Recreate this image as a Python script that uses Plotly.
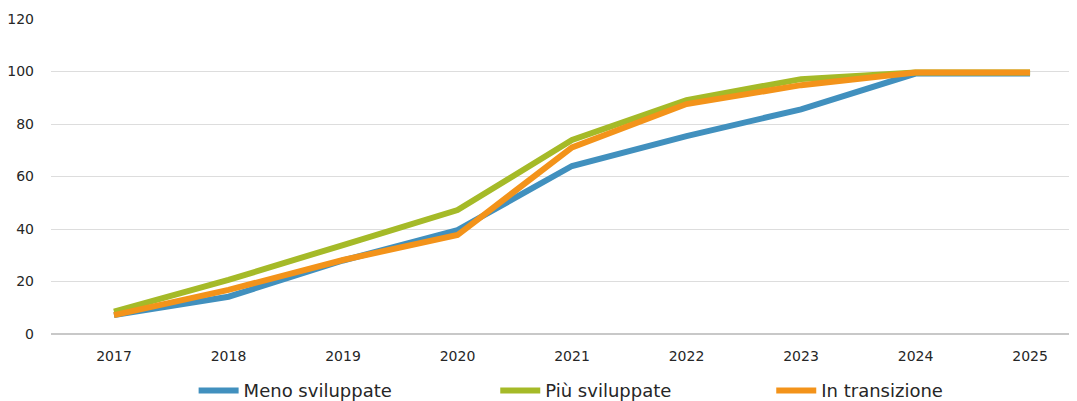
import plotly.graph_objects as go

years = ["2017", "2018", "2019", "2020", "2021", "2022", "2023", "2024", "2025"]
meno_sviluppate = [7.2, 14.2, 28.0, 39.6, 64.0, 75.4, 85.6, 99.2, 99.2]
piu_sviluppate = [8.5, 20.6, 33.9, 47.2, 73.9, 89.1, 97.1, 99.6, 99.6]
in_transizione = [7.2, 16.8, 28.2, 37.7, 71.1, 87.6, 94.8, 99.6, 99.6]

names = ["Meno sviluppate", "Più sviluppate", "In transizione"]
colors = ["#4190BE", "#A5BA28", "#F3931A"]
series = [meno_sviluppate, piu_sviluppate, in_transizione]
legend_ids = ["legend", "legend2", "legend3"]
legend_x = [0.139, 0.433, 0.702]

FONT = "'DejaVu Sans', sans-serif"

fig = go.Figure()
for name, col, vals, lid in zip(names, colors, series, legend_ids):
    fig.add_trace(go.Scatter(
        x=years, y=vals, name=name, mode="lines",
        line=dict(color=col, width=6),
        legend=lid,
    ))

legend_common = dict(
    orientation="h", yanchor="middle", y=-0.18, xanchor="left",
    font=dict(family=FONT, size=18, color="#262626"),
    bgcolor="rgba(0,0,0,0)", itemwidth=40,
)
layout_legends = {}
for lid, lx in zip(legend_ids, legend_x):
    layout_legends[lid] = dict(legend_common, x=lx)

fig.update_layout(
    width=1069, height=393,
    margin=dict(l=43, r=0, t=11, b=67, autoexpand=False),
    paper_bgcolor="white", plot_bgcolor="white",
    font=dict(family=FONT, size=14, color="#262626"),
    showlegend=True,
    xaxis=dict(
        type="category", range=[-0.55, 8.41],
        showgrid=False, zeroline=False, showline=False,
        ticks="", ticklabelstandoff=12, automargin=False,
        tickfont=dict(family=FONT, size=14, color="#262626"),
    ),
    yaxis=dict(
        range=[0, 120], tickvals=[0, 20, 40, 60, 80, 100, 120],
        showgrid=True, gridcolor="#DDDDDD", gridwidth=1.2,
        zeroline=True, zerolinecolor="#C8C8C8", zerolinewidth=2,
        showline=False, ticks="", ticklabelstandoff=16, automargin=False,
        tickfont=dict(family=FONT, size=14, color="#262626"),
    ),
    **layout_legends,
)

fig.write_html("out.html")
